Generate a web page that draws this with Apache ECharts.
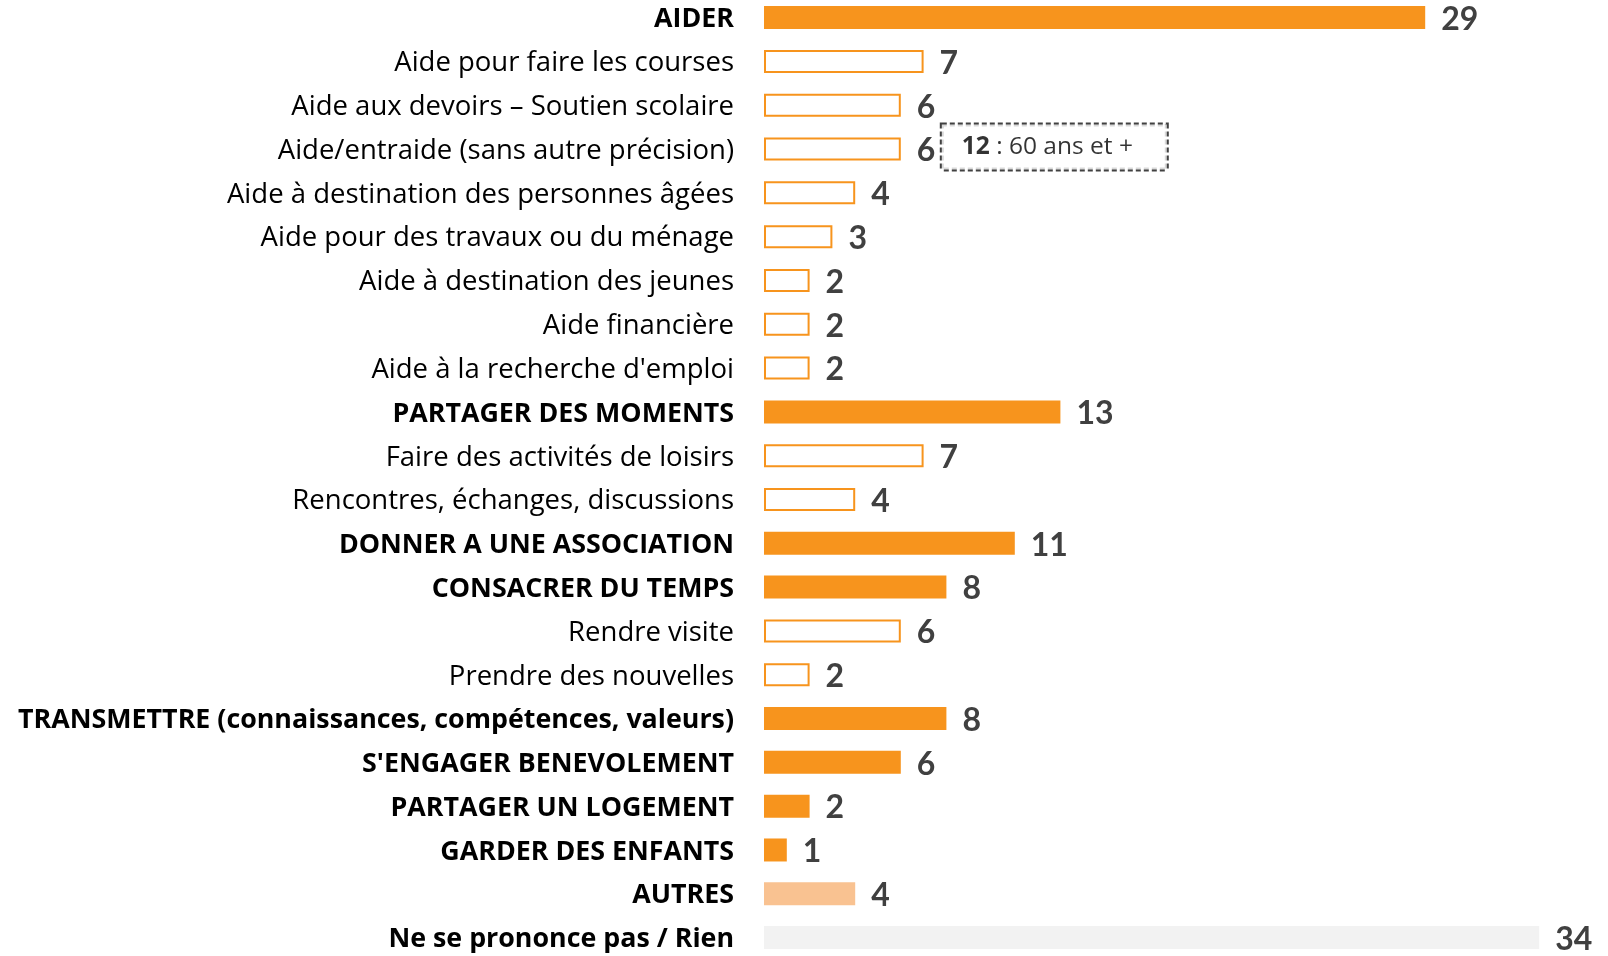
<!DOCTYPE html>
<html>
<head>
<meta charset="utf-8">
<script src="https://cdn.jsdelivr.net/npm/echarts@6/dist/echarts.min.js"></script>
<style>
  html, body { margin: 0; padding: 0; background: #ffffff; }
  #chart { width: 1608px; height: 956px; }
</style>
</head>
<body>
<div id="chart"></div>
<script>
// Answer categories, top to bottom
const categories = [
  'AIDER',
  'Aide pour faire les courses',
  'Aide aux devoirs – Soutien scolaire',
  'Aide/entraide (sans autre précision)',
  'Aide à destination des personnes âgées',
  'Aide pour des travaux ou du ménage',
  'Aide à destination des jeunes',
  'Aide financière',
  "Aide à la recherche d'emploi",
  'PARTAGER DES MOMENTS',
  'Faire des activités de loisirs',
  'Rencontres, échanges, discussions',
  'DONNER A UNE ASSOCIATION',
  'CONSACRER DU TEMPS',
  'Rendre visite',
  'Prendre des nouvelles',
  'TRANSMETTRE (connaissances, compétences, valeurs)',
  "S'ENGAGER BENEVOLEMENT",
  'PARTAGER UN LOGEMENT',
  'GARDER DES ENFANTS',
  'AUTRES',
  'Ne se prononce pas / Rien'
];

// Share of answers (%)
const values = [29, 7, 6, 6, 4, 3, 2, 2, 2, 13, 7, 4, 11, 8, 6, 2, 8, 6, 2, 1, 4, 34];

// Level of each answer: theme heading, detail under a theme, other, no answer
const levels = [
  'theme', 'detail', 'detail', 'detail', 'detail', 'detail', 'detail', 'detail', 'detail',
  'theme', 'detail', 'detail',
  'theme',
  'theme', 'detail', 'detail',
  'theme', 'theme', 'theme', 'theme',
  'other', 'none'
];

// Note attached to one answer: value among people aged 60 and over
const noteCategory = 'Aide/entraide (sans autre précision)';
const noteValue = 12;
const noteText = '60 ans et +';

const ORANGE = '#F7941D';
const LIGHT_ORANGE = '#F9C291';
const GREY = '#F2F2F2';

function barStyle(level) {
  if (level === 'theme') return { color: ORANGE };
  if (level === 'detail') return { color: '#ffffff', borderColor: ORANGE, borderWidth: 2 };
  if (level === 'other') return { color: LIGHT_ORANGE };
  return { color: GREY };
}

const UNIT = 22.8;       // px per percentage point
const X_MAX = 36;
const LABEL_FONT = '"Open Sans", Lato, sans-serif';

const chart = echarts.init(document.getElementById('chart'), null, { renderer: 'canvas' });

const noteIndex = categories.indexOf(noteCategory);

chart.setOption({
  animation: false,
  backgroundColor: '#ffffff',
  // rows sit on the ticks; first and last row centres at the grid edges
  grid: { left: 764, top: 17.6, width: UNIT * X_MAX, height: 920, containLabel: false },
  xAxis: {
    type: 'value', min: 0, max: X_MAX, show: false
  },
  yAxis: {
    type: 'category',
    inverse: true,
    boundaryGap: false,
    data: categories,
    axisLine: { show: false },
    axisTick: { show: false },
    splitLine: { show: false },
    axisLabel: {
      margin: 30,
      padding: [4, 0, 0, 0],
      formatter: function (value, index) {
        const lv = levels[index];
        return (lv === 'detail' ? '{n|' : '{b|') + value + '}';
      },
      rich: {
        n: { fontFamily: LABEL_FONT, fontSize: 27.5, color: '#000000' },
        b: { fontFamily: LABEL_FONT, fontSize: 26.8, fontWeight: 'bold', color: '#000000' }
      }
    }
  },
  series: [
    {
      type: 'bar',
      barWidth: 23,
      data: values.map((v, i) => ({ value: v, itemStyle: barStyle(levels[i]) })),
      label: {
        show: true,
        position: 'right',
        distance: 16,
        offset: [0, 2],
        fontFamily: 'Lato',
        fontWeight: 'bold',
        fontSize: 32,
        color: '#404040'
      }
    },
    {
      type: 'scatter',
      symbolSize: 0,
      silent: true,
      data: [[values[noteIndex], noteCategory]],
      label: {
        show: true,
        position: 'right',
        distance: 41,
        offset: [0, -2],
        formatter: '{nb|' + noteValue + '}{nt| : ' + noteText + '}',
        width: 191,
        padding: [10, 14, 10, 20],
        borderColor: '#111111',
        borderWidth: 2,
        borderType: [5, 3],
        backgroundColor: '#ffffff',
        rich: {
          nb: { fontFamily: LABEL_FONT, fontSize: 24.5, fontWeight: 'bold', color: '#000000', lineHeight: 25 },
          nt: { fontFamily: LABEL_FONT, fontSize: 24.5, color: '#000000', lineHeight: 25 }
        }
      }
    }
  ]
});
</script>
</body>
</html>
